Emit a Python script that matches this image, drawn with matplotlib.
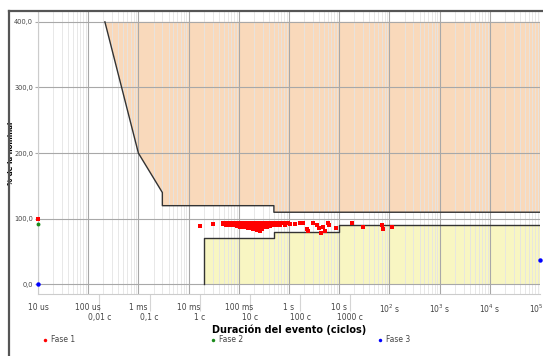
import matplotlib
matplotlib.use("Agg")
import matplotlib.pyplot as plt
from matplotlib.lines import Line2D
from matplotlib.ticker import FixedLocator, NullLocator, FuncFormatter, LogLocator

plt.rcParams['font.family'] = ['Liberation Sans Narrow', 'DejaVu Sans']

# ITIC curve (seconds, % of nominal)
itic_up_t = [2.15e-4, 1e-3, 3e-3, 3e-3, 0.5, 0.5, 1e5]
itic_up_v = [400, 200, 140, 120, 120, 110, 110]
itic_lo_t = [0.02, 0.02, 0.5, 0.5, 10, 10, 1e5]
itic_lo_v = [0, 70, 70, 80, 80, 90, 90]

# events, phase 1
fase1_t = [1e-5, 0.017, 0.031,
           0.048, 0.048, 0.055, 0.055, 0.061, 0.061, 0.067, 0.067, 0.067,
           0.075, 0.075, 0.075, 0.084, 0.084, 0.084, 0.094, 0.094, 0.094,
           0.106, 0.106, 0.106, 0.106, 0.12, 0.12, 0.12, 0.12,
           0.133, 0.133, 0.133, 0.133, 0.15, 0.15, 0.15, 0.15,
           0.167, 0.167, 0.167, 0.167, 0.19, 0.19, 0.19, 0.19,
           0.21, 0.21, 0.21, 0.21, 0.21, 0.235, 0.235, 0.235, 0.235, 0.235,
           0.264, 0.264, 0.264, 0.264, 0.264, 0.29, 0.29, 0.29, 0.29,
           0.33, 0.33, 0.33, 0.37, 0.37, 0.37, 0.42, 0.42, 0.42,
           0.47, 0.47, 0.53, 0.53, 0.59, 0.59, 0.66, 0.66, 0.75,
           0.83, 0.83, 0.95, 1.05,
           1.32, 1.66, 1.9, 2.28, 2.35, 3.0, 3.6, 3.96, 4.34, 4.76, 5.21,
           5.98, 6.26, 8.63, 18.0, 29.8, 71.2, 74.6, 113]
fase1_v = [100, 89, 92,
           94, 92, 94, 91, 94, 92, 94, 91, 90,
           94, 92, 90, 94, 92, 90, 94, 91, 89,
           94, 92, 90, 88, 94, 92, 90, 88,
           94, 92, 89, 87, 94, 91, 88, 86,
           94, 92, 89, 86, 94, 91, 88, 85,
           94, 92, 89, 86, 84, 94, 91, 88, 85, 83,
           94, 91, 88, 85, 82, 94, 91, 88, 85,
           94, 91, 88, 94, 91, 88, 94, 91, 89,
           94, 91, 94, 91, 93, 91, 93, 91, 93,
           93, 91, 93, 92,
           92, 94, 93, 84, 81, 94, 90, 86, 78, 88, 82,
           94, 90, 86, 93, 88, 91, 84, 88]

fase2_t = [1e-5]
fase2_v = [92]
fase3_t = [1e-5, 1e5]
fase3_v = [0, 38]

time_ticks = [1e-5, 1e-4, 1e-3, 1e-2, 0.1, 1, 10, 1e2, 1e3, 1e4, 1e5]
time_labels = ['10 us', '100 us', '1 ms', '10 ms', '100 ms', '1 s', '10 s',
               '$10^2$ s', '$10^3$ s', '$10^4$ s', '$10^5$ s']
cyc_ticks = [0.01, 0.1, 1, 10, 100, 1000]
cyc_labels = ['0,01 c', '0,1 c', '1 c', '10 c', '100 c', '1000 c']

fig = plt.figure(figsize=(5.43, 3.56), dpi=100)
ax = fig.add_axes([38/543, 1-294.3/356, 502/543, (294.3-12)/356])
ax.set_xscale('log')
ax.set_xlim(1e-5, 1e5)
ax.set_ylim(-15, 415)

ax.fill(itic_up_t + [1e5], itic_up_v + [400], color='#f9d9bb', lw=0, zorder=0.1)
ax.fill(itic_lo_t + [1e5], itic_lo_v + [0], color='#f8f6c2', lw=0, zorder=0.1)
ax.plot(itic_up_t, itic_up_v, color='#333333', lw=1.0, zorder=2)
ax.plot(itic_lo_t, itic_lo_v, color='#333333', lw=1.0, zorder=2)

ax.plot(fase1_t, fase1_v, 's', color='red', ms=2.4, mew=0, zorder=3, clip_on=False)
ax.plot(fase2_t, fase2_v, 'o', color='#1a8a1a', ms=2.8, mew=0, zorder=3, clip_on=False)
ax.plot(fase3_t, fase3_v, 'o', color='blue', ms=3.2, mew=0, zorder=3, clip_on=False)

ax.set_axisbelow(True)
ax.xaxis.set_minor_locator(LogLocator(base=10, subs=range(2, 10), numticks=200))
ax.grid(which='major', color='#a8a8a8', lw=0.8)
ax.grid(which='minor', axis='x', color='#e4e4e4', lw=0.6)
ax.set_yticks([0, 100, 200, 300, 400])
ax.yaxis.set_major_formatter(FuncFormatter(lambda v, p: f"{v:.1f}".replace('.', ',')))
ax.xaxis.set_major_locator(FixedLocator(time_ticks))
ax.set_xticklabels(time_labels)
ax.tick_params(axis='x', which='major', length=0, pad=6, labelsize=5.5, labelcolor='#444444')
ax.tick_params(axis='x', which='minor', length=0)
ax.tick_params(axis='y', length=2, color='#aaaaaa', pad=1.5, labelsize=4.8, labelcolor='#444444')
for s in ['top', 'right']:
    ax.spines[s].set_visible(False)
for s in ['left', 'bottom']:
    ax.spines[s].set_color('#cccccc')

sec = ax.secondary_xaxis('bottom', functions=(lambda t: t*60, lambda c: c/60))
sec.set_xticks(cyc_ticks)
sec.set_xticklabels(cyc_labels)
sec.xaxis.set_minor_locator(NullLocator())
sec.tick_params(axis='x', length=12, width=0.8, color='#d5d5d5', pad=1.5,
                labelsize=5.5, labelcolor='#444444')
sec.spines['bottom'].set_visible(False)

ax.set_xlabel('Duración del evento (ciclos)', fontsize=7, fontweight='bold', labelpad=7)
ax.set_ylabel('% de la nominal', fontsize=5, fontweight='bold')
ax.yaxis.set_label_coords(-23.5/502, 0.5)

handles = [Line2D([], [], marker='o', ls='', color='red', ms=2.5, mew=0, label='Fase 1'),
           Line2D([], [], marker='o', ls='', color='#1a8a1a', ms=2.5, mew=0, label='Fase 2'),
           Line2D([], [], marker='o', ls='', color='blue', ms=2.5, mew=0, label='Fase 3')]
leg = fig.legend(handles=handles, loc='center left', bbox_to_anchor=(41/543, 1-340/356),
                 ncol=3, frameon=False, fontsize=5.5, handlelength=1, handletextpad=0.3,
                 columnspacing=17.5, borderpad=0, borderaxespad=0)
for t in leg.get_texts():
    t.set_color('#444444')

# window frame
fig.add_artist(Line2D([9/543, 1], [1-11/356, 1-11/356], color='#555555', lw=1.6))
fig.add_artist(Line2D([9/543, 9/543], [0, 1-11/356], color='#555555', lw=1.6))

fig.savefig('out.png', dpi=100)
